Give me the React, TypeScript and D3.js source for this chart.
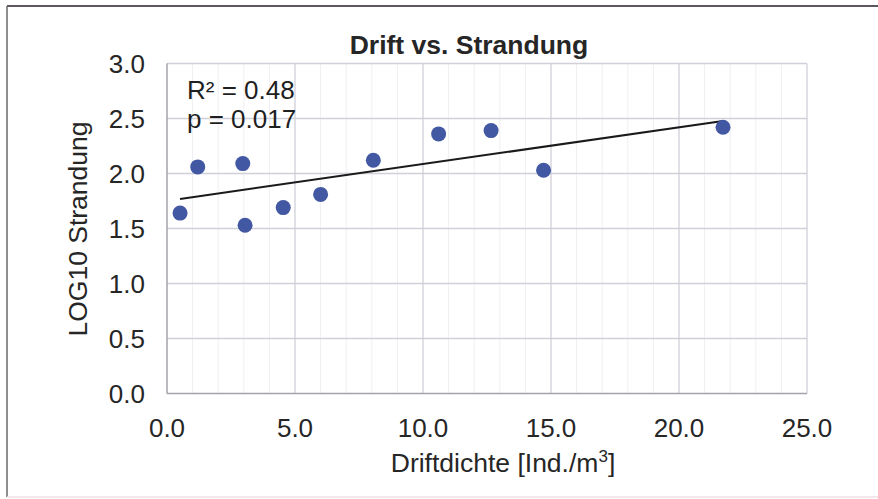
import React, { useRef, useEffect } from "react";
import * as d3 from "d3";

// Driftdichte [Ind./m3] and LOG10 Strandung
const driftValues = [0.51, 1.2, 2.96, 3.05, 4.54, 6.0, 8.06, 10.61, 12.66, 14.71, 21.72];
const strandValues = [1.64, 2.06, 2.09, 1.53, 1.69, 1.81, 2.12, 2.36, 2.39, 2.03, 2.42];
const xTicks = [0, 5, 10, 15, 20, 25];
const yTicks = [0, 0.5, 1, 1.5, 2, 2.5, 3];
const statLines = ["R² = 0.48", "p = 0.017"];

const W = 878;
const H = 499;
const FONT = "'Liberation Sans', Arial, sans-serif";

const App = () => {
  const ref = useRef<SVGSVGElement>(null);

  useEffect(() => {
    const svg = d3.select(ref.current);
    svg.selectAll("*").remove();

    const left = 167;
    const right = 807;
    const top = 63.5;
    const bottom = 393.5;

    const x = d3.scaleLinear().domain([0, 25]).range([left, right]);
    const y = d3.scaleLinear().domain([0, 3]).range([bottom, top]);

    svg.append("rect").attr("width", W).attr("height", H).attr("fill", "#fff");

    // outer frame of the scanned figure
    svg.append("line").attr("x1", 7).attr("x2", W).attr("y1", 6).attr("y2", 6)
      .attr("stroke", "#5b5660").attr("stroke-width", 2);
    svg.append("line").attr("x1", 7).attr("x2", 7).attr("y1", 6).attr("y2", 497)
      .attr("stroke", "#6a6a6a").attr("stroke-width", 1.5);
    svg.append("line").attr("x1", 7).attr("x2", W).attr("y1", 497).attr("y2", 497)
      .attr("stroke", "#f0dfe6").attr("stroke-width", 1.5);

    // minor vertical gridlines
    svg.append("g")
      .selectAll("line")
      .data(d3.range(1, 25).filter((v) => v % 5 !== 0))
      .enter()
      .append("line")
      .attr("x1", (d) => x(d))
      .attr("x2", (d) => x(d))
      .attr("y1", top)
      .attr("y2", bottom)
      .attr("stroke", "#efeff3")
      .attr("stroke-width", 1);

    // major gridlines
    svg.append("g")
      .selectAll("line")
      .data(xTicks.slice(1))
      .enter()
      .append("line")
      .attr("x1", (d) => x(d))
      .attr("x2", (d) => x(d))
      .attr("y1", top)
      .attr("y2", bottom)
      .attr("stroke", "#cfd0d8")
      .attr("stroke-width", 1.3);
    svg.append("g")
      .selectAll("line")
      .data(yTicks.slice(1))
      .enter()
      .append("line")
      .attr("x1", left)
      .attr("x2", right)
      .attr("y1", (d) => y(d))
      .attr("y2", (d) => y(d))
      .attr("stroke", "#cfd0d8")
      .attr("stroke-width", 1.3);

    // axis lines
    svg.append("line").attr("x1", left).attr("x2", left).attr("y1", top).attr("y2", bottom)
      .attr("stroke", "#a3a3aa").attr("stroke-width", 1.5);
    svg.append("line").attr("x1", left).attr("x2", right).attr("y1", bottom).attr("y2", bottom)
      .attr("stroke", "#a3a3aa").attr("stroke-width", 1.5);

    // tick labels
    svg.append("g")
      .selectAll("text")
      .data(yTicks)
      .enter()
      .append("text")
      .attr("x", 145)
      .attr("y", (d) => y(d) + 9.5)
      .attr("text-anchor", "end")
      .style("font-family", FONT)
      .style("font-size", "26px")
      .attr("fill", "#262626")
      .text((d) => d3.format(".1f")(d));
    svg.append("g")
      .selectAll("text")
      .data(xTicks)
      .enter()
      .append("text")
      .attr("x", (d) => x(d))
      .attr("y", 437)
      .attr("text-anchor", "middle")
      .style("font-family", FONT)
      .style("font-size", "26px")
      .attr("fill", "#262626")
      .text((d) => d3.format(".1f")(d));

    // linear trend (least squares)
    const mx = d3.mean(driftValues) as number;
    const my = d3.mean(strandValues) as number;
    let sxy = 0;
    let sxx = 0;
    driftValues.forEach((v, i) => {
      sxy += (v - mx) * (strandValues[i] - my);
      sxx += (v - mx) * (v - mx);
    });
    const slope = sxy / sxx;
    const icpt = my - slope * mx;
    const [x0, x1] = d3.extent(driftValues) as [number, number];
    svg.append("path")
      .attr("d", d3.line<number>().x((d) => x(d)).y((d) => y(icpt + slope * d))([x0, x1]))
      .attr("stroke", "#1a1a1a")
      .attr("stroke-width", 2)
      .attr("fill", "none");

    // points
    svg.append("g")
      .selectAll("circle")
      .data(driftValues)
      .enter()
      .append("circle")
      .attr("cx", (d) => x(d))
      .attr("cy", (d, i) => y(strandValues[i]))
      .attr("r", 7.5)
      .attr("fill", "#4258a2");

    // R² / p annotation
    svg.append("g")
      .selectAll("text")
      .data(statLines)
      .enter()
      .append("text")
      .attr("x", 187)
      .attr("y", (d, i) => 99 + i * 29)
      .style("font-family", FONT)
      .style("font-size", "26px")
      .attr("fill", "#1f1f1f")
      .text((d) => d);

    // titles
    svg.append("text")
      .attr("x", 469)
      .attr("y", 54)
      .attr("text-anchor", "middle")
      .style("font-family", FONT)
      .style("font-size", "26.5px")
      .style("font-weight", "bold")
      .attr("fill", "#262626")
      .text("Drift vs. Strandung");

    const xl = svg.append("text")
      .attr("x", 503)
      .attr("y", 472)
      .attr("text-anchor", "middle")
      .style("font-family", FONT)
      .style("font-size", "26.5px")
      .attr("fill", "#262626");
    xl.append("tspan").text("Driftdichte [Ind./m");
    xl.append("tspan").attr("dy", -10).style("font-size", "17px").text("3");
    xl.append("tspan").attr("dy", 10).text("]");

    svg.append("text")
      .attr("transform", "translate(87,229) rotate(-90)")
      .attr("text-anchor", "middle")
      .style("font-family", FONT)
      .style("font-size", "26.5px")
      .attr("fill", "#262626")
      .text("LOG10 Strandung");
  }, []);

  return (
    <svg
      ref={ref}
      width={W}
      height={H}
      style={{ position: "absolute", left: 0, top: 0 }}
    ></svg>
  );
};

export default App;
